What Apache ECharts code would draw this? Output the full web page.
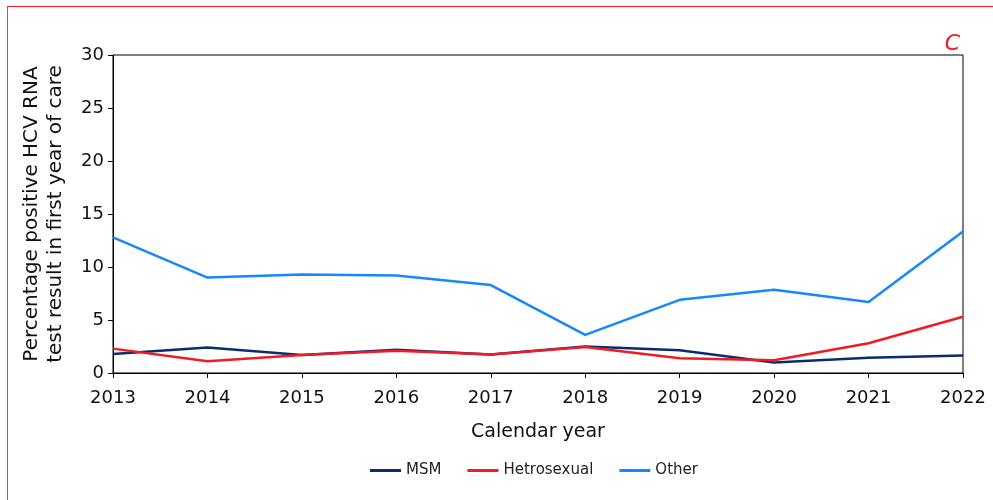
<!DOCTYPE html>
<html>
<head>
<meta charset="utf-8">
<script src="https://cdn.jsdelivr.net/npm/echarts@6/dist/echarts.min.js"></script>
<style>
  html, body { margin: 0; padding: 0; background: #fff; }
  #chart { width: 993px; height: 500px; }
</style>
</head>
<body>
<div id="chart"></div>
<script>
const years = ['2013', '2014', '2015', '2016', '2017', '2018', '2019', '2020', '2021', '2022']
const msm = [1.8, 2.4, 1.7, 2.2, 1.75, 2.5, 2.15, 1.0, 1.45, 1.65]
const hetero = [2.3, 1.1, 1.7, 2.1, 1.75, 2.45, 1.4, 1.2, 2.8, 5.3]
const other = [12.8, 9.0, 9.3, 9.2, 8.3, 3.6, 6.9, 7.85, 6.7, 13.35]
const yTicks = [0, 5, 10, 15, 20, 25, 30]

const FONT = 'DejaVu Sans, Verdana, sans-serif'
const chart = echarts.init(document.getElementById('chart'))

chart.setOption({
  backgroundColor: '#fff',
  animation: false,
  title: {
    text: 'C',
    right: 28,
    top: 28,
    textStyle: { color: '#ee1c25', fontStyle: 'italic', fontWeight: 'normal', fontSize: 22, fontFamily: FONT },
  },
  graphic: [
    { type: 'line', shape: { x1: 7, y1: 6.5, x2: 993, y2: 6.5 }, style: { stroke: '#ee1c25', lineWidth: 1 } },
    { type: 'line', shape: { x1: 7.5, y1: 7, x2: 7.5, y2: 500 }, style: { stroke: '#777', lineWidth: 1 } },
  ],
  legend: {
    top: 458,
    left: 365,
    icon: 'rect',
    itemWidth: 31,
    itemHeight: 3,
    itemGap: 26,
    textStyle: { color: '#222', fontSize: 15, fontFamily: FONT },
    data: ['MSM', 'Hetrosexual', 'Other'],
  },
  grid: { left: 113, right: 30, top: 55, bottom: 127, show: true, borderColor: '#000', borderWidth: 1 },
  xAxis: {
    type: 'category',
    data: years,
    boundaryGap: false,
    name: 'Calendar year',
    nameLocation: 'middle',
    nameGap: 50,
    nameTextStyle: { color: '#111', fontSize: 19, fontFamily: FONT },
    axisLine: { lineStyle: { color: '#000', width: 1 } },
    axisTick: { show: true, length: 5, lineStyle: { color: '#000' } },
    axisLabel: { color: '#111', fontSize: 18, fontFamily: FONT, margin: 16 },
    splitLine: { show: false },
  },
  yAxis: {
    type: 'value',
    min: yTicks[0],
    max: yTicks[yTicks.length - 1],
    interval: 5,
    name: 'Percentage positive HCV RNA\ntest result in first year of care',
    nameLocation: 'middle',
    nameGap: 45,
    nameTextStyle: { color: '#111', fontSize: 20, fontFamily: FONT, lineHeight: 24 },
    axisLine: { show: true, lineStyle: { color: '#000', width: 1 } },
    axisTick: { show: true, length: 5, lineStyle: { color: '#000' } },
    axisLabel: { color: '#111', fontSize: 18, fontFamily: FONT, margin: 9 },
    splitLine: { show: false },
  },
  series: [
    {
      name: 'MSM', type: 'line', data: msm, symbol: 'none',
      lineStyle: { color: '#0b2c6e', width: 2.5 }, itemStyle: { color: '#0b2c6e' },
    },
    {
      name: 'Hetrosexual', type: 'line', data: hetero, symbol: 'none',
      lineStyle: { color: '#ee1c25', width: 2.5 }, itemStyle: { color: '#ee1c25' },
    },
    {
      name: 'Other', type: 'line', data: other, symbol: 'none',
      lineStyle: { color: '#1787fa', width: 2.5 }, itemStyle: { color: '#1787fa' },
    },
  ],
})
</script>
</body>
</html>
